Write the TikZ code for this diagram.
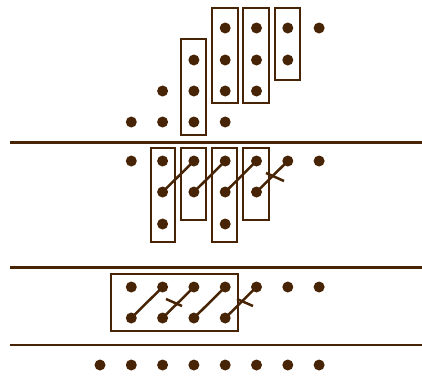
\documentclass[tikz,border=0pt]{standalone}
\definecolor{ink}{RGB}{72,36,6}
\begin{document}
\begin{tikzpicture}[x=1pt,y=-1pt,
  dot/.style={circle,fill=ink,inner sep=0pt,minimum size=11pt},
  frame/.style={draw=ink,line width=2.8pt},
  link/.style={draw=ink,line width=2.5pt},
  rule/.style={draw=ink,line width=2.8pt}]
\useasboundingbox (0,0) rectangle (422,375);
% rules
\coordinate (r1a) at (10,142.5); \coordinate (r1b) at (422,142.5);
\coordinate (r2a) at (10,267.5); \coordinate (r2b) at (422,267.5);
\coordinate (r3a) at (10,345); \coordinate (r3b) at (422,345);
\draw[rule] (r1a) -- (r1b);
\draw[rule] (r2a) -- (r2b);
\draw[rule] (r3a) -- (r3b);
% top section dots
\foreach \r/\y/\cs in {0/28/{4,5,6,7},1/60/{3,4,5,6},2/91/{2,3,4,5},3/122/{1,2,3,4}}
  \foreach \c in \cs \node[dot] (t\r\c) at ({100+31.3*\c},\y) {};
\draw[frame] (181,39) rectangle (206,135);
\draw[frame] (212,8) rectangle (238,103);
\draw[frame] (243,8) rectangle (269,103);
\draw[frame] (275,8) rectangle (300,80);
% second section dots
\foreach \r/\y/\cs in {0/161/{1,2,3,4,5,6,7},1/192/{2,3,4,5},2/224/{2,4}}
  \foreach \c in \cs \node[dot] (m\r\c) at ({100+31.3*\c},\y) {};
\draw[frame] (151,148) rectangle (175,242);
\draw[frame] (181,148) rectangle (206,220);
\draw[frame] (212,148) rectangle (237,242);
\draw[frame] (243,148) rectangle (269,220);
\foreach \c/\d in {2/3,3/4,4/5,5/6}
  \draw[link] (m1\c.center) -- (m0\d.center);
\coordinate (mt1) at (266,173); \coordinate (mt2) at (284,181);
\draw[link] (mt1) -- (mt2);
% third section dots
\foreach \r/\y/\cs in {0/287/{1,2,3,4,5,6,7},1/318/{1,2,3,4}}
  \foreach \c in \cs \node[dot] (l\r\c) at ({100+31.3*\c},\y) {};
\draw[frame] (111,274) rectangle (238,331);
\foreach \c/\d in {1/2,2/3,3/4,4/5}
  \draw[link] (l1\c.center) -- (l0\d.center);
\coordinate (lt1) at (166,299); \coordinate (lt2) at (182,306);
\coordinate (lt3) at (237,299); \coordinate (lt4) at (253,306);
\draw[link] (lt1) -- (lt2);
\draw[link] (lt3) -- (lt4);
% bottom row
\foreach \c in {0,...,7} \node[dot] (b\c) at ({100+31.3*\c},365) {};
\end{tikzpicture}
\end{document}
